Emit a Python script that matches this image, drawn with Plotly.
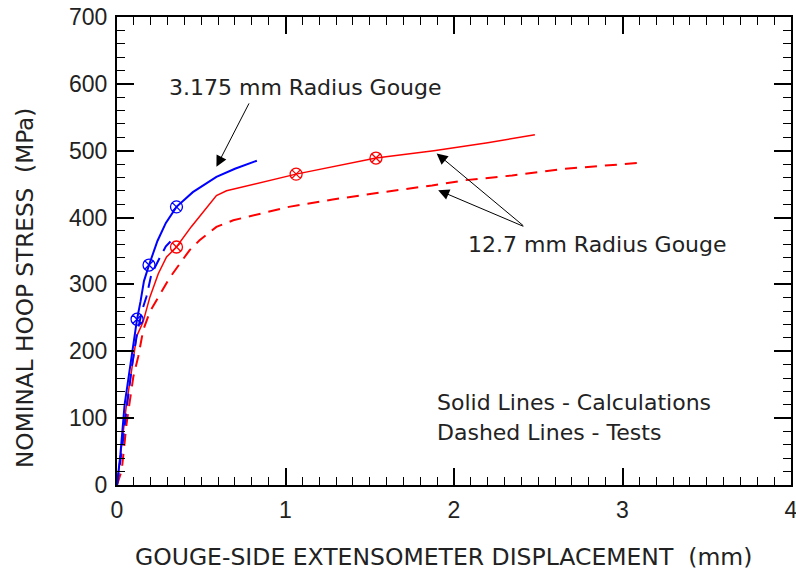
import plotly.graph_objects as go

# 3.175 mm radius gouge - calculation (solid blue)
calc_small_x = [0, 0.02, 0.045, 0.075, 0.097, 0.119, 0.14, 0.16, 0.19, 0.24, 0.29, 0.353, 0.45, 0.59, 0.70, 0.83]
calc_small_y = [0, 45, 120, 175, 215, 248, 275, 305, 329, 365, 392, 416, 438, 461, 473, 485]
calc_small_mark_x = [0.119, 0.19, 0.353]
calc_small_mark_y = [248, 329, 416]

# 3.175 mm radius gouge - test (dashed blue)
test_small_x = [0, 0.03, 0.06, 0.09, 0.12, 0.15, 0.175, 0.204, 0.254, 0.29, 0.32]
test_small_y = [0, 55, 120, 180, 228, 262, 282, 315, 340, 357, 365]

# 12.7 mm radius gouge - calculation (solid red)
calc_large_x = [0, 0.028, 0.057, 0.087, 0.116, 0.155, 0.195, 0.245, 0.294, 0.353, 0.44, 0.59, 0.65, 1.063, 1.537, 1.88, 2.2, 2.48]
calc_large_y = [0, 57, 122, 172, 222, 244, 281, 316, 341, 356, 386, 433, 440, 465, 489, 500, 512, 524]
calc_large_mark_x = [0.353, 1.063, 1.537]
calc_large_mark_y = [356, 465, 489]

# 12.7 mm radius gouge - test (dashed red)
test_large_x = [0, 0.028, 0.057, 0.097, 0.126, 0.156, 0.195, 0.245, 0.31, 0.43, 0.49, 0.59, 0.69, 1.02, 1.28, 1.576, 1.87, 2.07, 2.345, 2.66, 3.11]
test_large_y = [0, 22, 92, 162, 192, 232, 259, 281, 309, 351, 366, 386, 396, 416, 427, 438, 448, 456, 463, 473, 482]

x_ticks = [0, 1, 2, 3, 4]
y_ticks = [0, 100, 200, 300, 400, 500, 600, 700]

x_title = "GOUGE-SIDE EXTENSOMETER DISPLACEMENT \u00a0(mm)"
y_title = "NOMINAL HOOP STRESS \u00a0(MPa)"

FONT = "DejaVu Sans"
TICK_FONT = "Liberation Sans, Arial"
BLUE = "#0000ff"
RED = "#ff0000"
TXT = "#222222"

fig = go.Figure()
fig.add_trace(go.Scatter(x=test_large_x, y=test_large_y, mode="lines",
                         line=dict(color=RED, width=2, dash="12px,8px")))
fig.add_trace(go.Scatter(x=calc_large_x, y=calc_large_y, mode="lines",
                         line=dict(color=RED, width=1.5)))
fig.add_trace(go.Scatter(x=calc_large_mark_x, y=calc_large_mark_y, mode="markers",
                         marker=dict(symbol="circle-x-open", size=12, color=RED, line=dict(width=1.3))))
fig.add_trace(go.Scatter(x=test_small_x, y=test_small_y, mode="lines",
                         line=dict(color=BLUE, width=2, dash="12px,8px")))
fig.add_trace(go.Scatter(x=calc_small_x, y=calc_small_y, mode="lines",
                         line=dict(color=BLUE, width=2)))
fig.add_trace(go.Scatter(x=calc_small_mark_x, y=calc_small_mark_y, mode="markers",
                         marker=dict(symbol="circle-x-open", size=12, color=BLUE, line=dict(width=1.3))))

axis_common = dict(
    showgrid=False, zeroline=False, showline=True, linecolor="black", linewidth=2,
    mirror="allticks", ticks="inside", ticklen=17, tickwidth=1.5, tickcolor="black",
    tickfont=dict(family=TICK_FONT, size=23, color=TXT), automargin=False,
    ticklabeloverflow="allow",
)

fig.update_xaxes(range=[0, 4], tickvals=x_ticks, ticktext=[str(v) for v in x_ticks],
                 minor=dict(dtick=0.1, ticks="inside", ticklen=8, tickwidth=1.2, tickcolor="black"),
                 ticklabelstandoff=3, **axis_common)
fig.update_yaxes(range=[0, 700], tickvals=y_ticks, ticktext=[str(v) for v in y_ticks],
                 minor=dict(dtick=20, ticks="inside", ticklen=8, tickwidth=1.2, tickcolor="black"),
                 ticklabelstandoff=3, **axis_common)

ann_font = dict(family=FONT, size=22, color=TXT)
title_font = dict(family=FONT, size=23.5, color=TXT)
annotations = [
    dict(x=0.4844, y=-0.1538, xref="paper", yref="paper", text=x_title, showarrow=False,
         xanchor="center", yanchor="middle", font=title_font),
    dict(x=-0.1365, y=0.421, xref="paper", yref="paper", text=y_title, showarrow=False,
         textangle=-90, xanchor="center", yanchor="middle", font=dict(family=FONT, size=23.2, color=TXT)),
    dict(x=1.12, y=595, text="3.175 mm Radius Gouge", showarrow=False, font=ann_font),
    dict(x=0.59, y=476, ax=0.788, ay=573, axref="x", ayref="y", text="", showarrow=True,
         arrowhead=2, arrowsize=2.2, arrowwidth=1, arrowcolor="black"),
    dict(x=2.85, y=359, text="12.7 mm Radius Gouge", showarrow=False, font=ann_font),
    dict(x=1.897, y=496, ax=2.42, ay=386, axref="x", ayref="y", text="", showarrow=True,
         arrowhead=2, arrowsize=2.2, arrowwidth=1, arrowcolor="black"),
    dict(x=1.906, y=441, ax=2.42, ay=386, axref="x", ayref="y", text="", showarrow=True,
         arrowhead=2, arrowsize=2.2, arrowwidth=1, arrowcolor="black"),
    dict(x=1.885, y=124, text="Solid Lines - Calculations", showarrow=False, xanchor="left", font=ann_font),
    dict(x=1.885, y=79, text="Dashed Lines - Tests", showarrow=False, xanchor="left", font=ann_font),
]

fig.update_layout(
    width=796, height=571,
    margin=dict(l=117, r=5, t=17, b=86),
    paper_bgcolor="white", plot_bgcolor="white",
    showlegend=False,
    annotations=annotations,
)

# remove the default 8px page margin so the figure fills the window exactly
fig.write_html("out.html", config={"displayModeBar": False},
               post_script="document.body.style.margin='0';")
